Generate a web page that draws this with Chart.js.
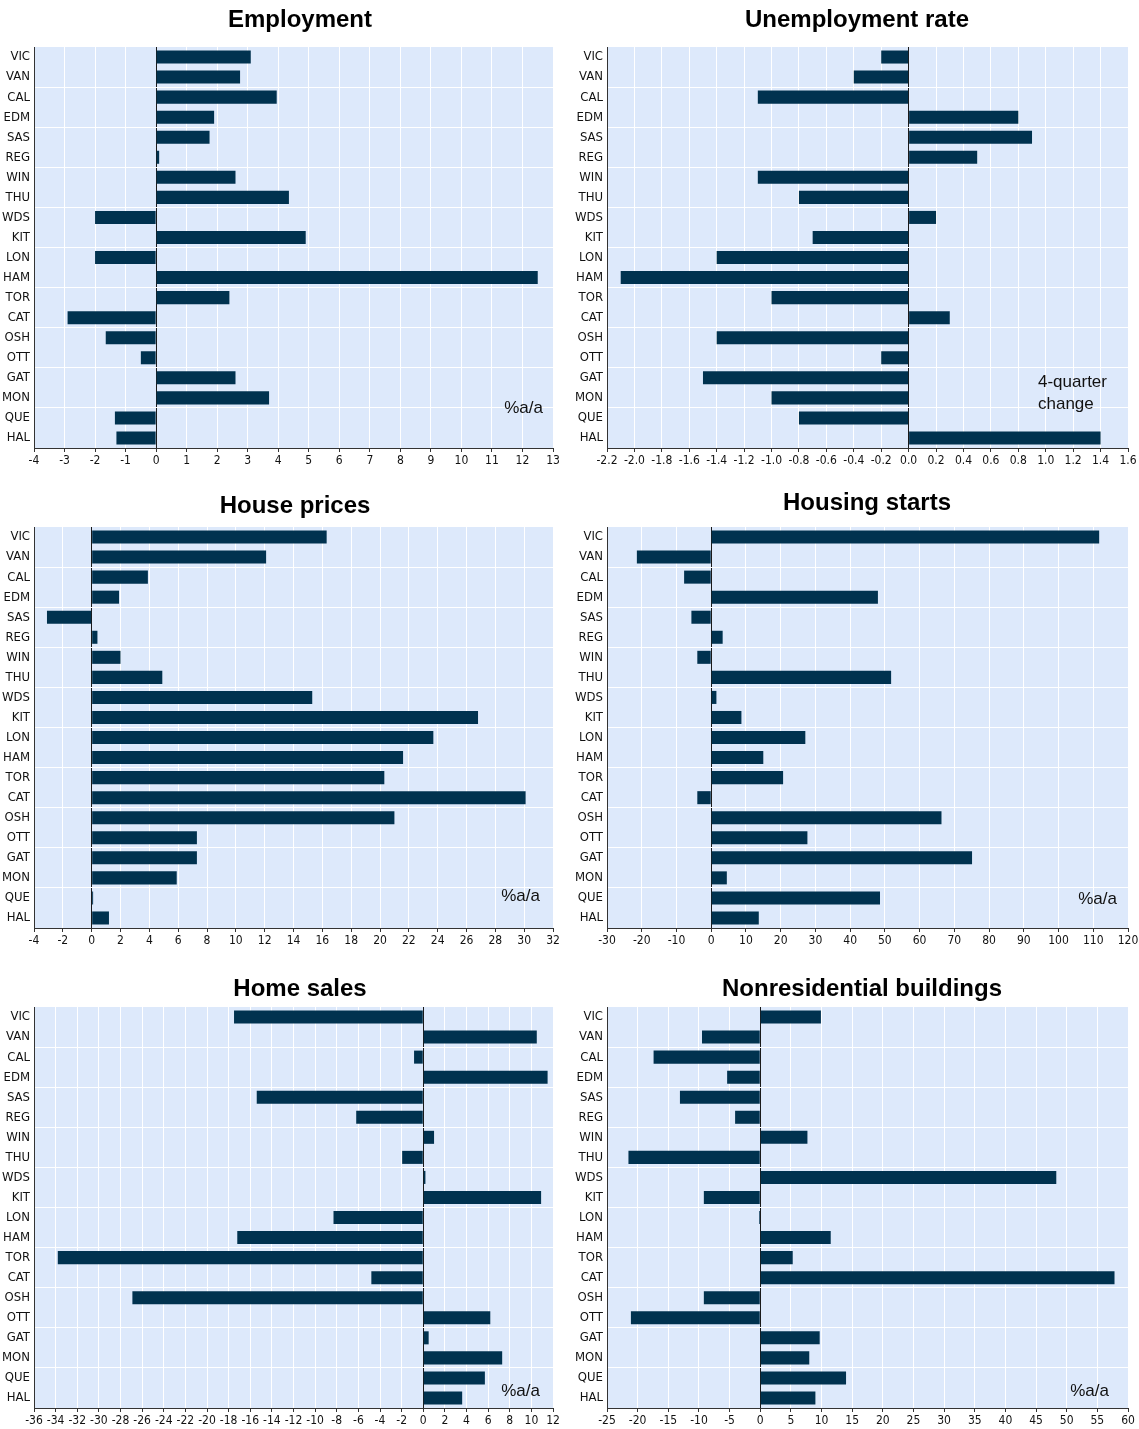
<!DOCTYPE html>
<html>
<head>
<meta charset="utf-8">
<title>Canadian cities: labour and housing indicators</title>
<script src="https://cdn.jsdelivr.net/npm/chart.js@4/dist/chart.umd.min.js"></script>
<style>
  html, body { margin: 0; padding: 0; background: #ffffff; }
  body { width: 1139px; height: 1429px; position: relative; overflow: hidden; }
  canvas { position: absolute; display: block; }
</style>
</head>
<body>
<canvas id="employment" width="560" height="480" style="left:0px;top:0px"></canvas>
<canvas id="unemployment" width="569" height="480" style="left:570px;top:0px"></canvas>
<canvas id="housePrices" width="560" height="480" style="left:0px;top:480px"></canvas>
<canvas id="housingStarts" width="569" height="480" style="left:570px;top:480px"></canvas>
<canvas id="homeSales" width="560" height="469" style="left:0px;top:960px"></canvas>
<canvas id="nonresidential" width="569" height="469" style="left:570px;top:960px"></canvas>
<script>
// Census metropolitan areas, west to east
const cities = ['VIC', 'VAN', 'CAL', 'EDM', 'SAS', 'REG', 'WIN', 'THU', 'WDS', 'KIT',
                'LON', 'HAM', 'TOR', 'CAT', 'OSH', 'OTT', 'GAT', 'MON', 'QUE', 'HAL'];

// Year-over-year changes by city
const employment       = [3.1, 2.75, 3.95, 1.9, 1.75, 0.1, 2.6, 4.35, -2.0, 4.9,
                          -2.0, 12.5, 2.4, -2.9, -1.65, -0.5, 2.6, 3.7, -1.35, -1.3];
const unemploymentRate = [-0.2, -0.4, -1.1, 0.8, 0.9, 0.5, -1.1, -0.8, 0.2, -0.7,
                          -1.4, -2.1, -1.0, 0.3, -1.4, -0.2, -1.5, -1.0, -0.8, 1.4];
const housePrices      = [16.3, 12.1, 3.9, 1.9, -3.1, 0.4, 2.0, 4.9, 15.3, 26.8,
                          23.7, 21.6, 20.3, 30.1, 21.0, 7.3, 7.3, 5.9, 0.1, 1.2];
const housingStarts    = [111.7, -21.4, -7.8, 48.0, -5.7, 3.3, -4.0, 51.8, 1.5, 8.7,
                          27.1, 15.0, 20.7, -4.0, 66.3, 27.7, 75.1, 4.5, 48.6, 13.7];
const homeSales        = [-17.5, 10.5, -0.85, 11.5, -15.4, -6.2, 1.0, -1.95, 0.2, 10.9,
                          -8.3, -17.2, -33.8, -4.8, -26.9, 6.2, 0.5, 7.3, 5.7, 3.6];
const nonresidential   = [9.9, -9.5, -17.4, -5.4, -13.1, -4.1, 7.7, -21.5, 48.3, -9.2,
                          -0.2, 11.5, 5.3, 57.8, -9.2, -21.1, 9.7, 8.0, 14.0, 9.0];

// Value-axis tick ranges: [min, max, step, decimals]
const employmentTicks    = [-4, 13, 1, 0];
const unemploymentTicks  = [-2.2, 1.6, 0.2, 1];
const housePriceTicks    = [-4, 32, 2, 0];
const housingStartTicks  = [-30, 120, 10, 0];
const homeSalesTicks     = [-36, 12, 2, 0];
const nonresidentialTicks = [-25, 60, 5, 0];

const BAR = '#00324f';
const PLOT_BG = '#dde9fb';
const AXIS = '#333333';
const TEXT = '#111111';
const NARROW = "'Liberation Sans Narrow', 'Arial Narrow', 'DejaVu Sans Condensed', sans-serif";
const SANS = "'Liberation Sans', Arial, Helvetica, sans-serif";

// Plot background, panel heading and the unit note in the corner
const panelDecor = {
  id: 'panelDecor',
  beforeDraw(chart, args, opts) {
    const { ctx, chartArea: a } = chart;
    ctx.save();
    ctx.fillStyle = PLOT_BG;
    ctx.fillRect(a.left, a.top, a.right - a.left, a.bottom - a.top);
    ctx.restore();
  },
  afterDraw(chart, args, opts) {
    const { ctx, chartArea: a } = chart;
    ctx.save();
    ctx.fillStyle = '#000000';
    ctx.font = 'bold 24px ' + SANS;
    ctx.textAlign = 'center';
    ctx.textBaseline = 'alphabetic';
    ctx.fillText(opts.title, opts.titleX, opts.titleY);

    const note = opts.note;
    ctx.font = '17px ' + SANS;
    ctx.fillStyle = '#111111';
    ctx.textAlign = note.align;
    ctx.textBaseline = 'middle';
    note.lines.forEach((line, i) => {
      ctx.fillText(line, a.right + note.dx, a.bottom + note.dy + i * 22);
    });
    ctx.restore();
  }
};

function drawPanel(canvasId, values, ticks, layout) {
  const [min, max, step, decimals] = ticks;
  return new Chart(document.getElementById(canvasId), {
    type: 'bar',
    data: {
      labels: cities,
      datasets: [{
        data: values,
        backgroundColor: BAR,
        borderWidth: 0,
        barPercentage: 0.65,
        categoryPercentage: 1.0
      }]
    },
    options: {
      indexAxis: 'y',
      responsive: false,
      animation: false,
      events: [],
      layout: { padding: { top: 47, right: layout.padRight, left: 0, bottom: 0 } },
      plugins: {
        legend: { display: false },
        tooltip: { enabled: false },
        title: { display: false },
        panelDecor: {
          title: layout.title,
          titleX: layout.titleX,
          titleY: layout.titleY,
          note: layout.note
        }
      },
      scales: {
        x: {
          type: 'linear',
          min: min,
          max: max,
          afterFit(scale) {
            scale.height = layout.xHeight;
            scale.paddingLeft = 0;
            scale.paddingRight = 0;
          },
          ticks: {
            stepSize: step,
            autoSkip: false,
            maxRotation: 0,
            minRotation: 0,
            padding: 2,
            color: TEXT,
            font: { family: NARROW, size: 12 },
            callback: (v) => Number(v).toFixed(decimals)
          },
          grid: {
            color: (c) => (c.tick && Math.abs(c.tick.value) < 1e-9) ? '#1a1a1a' : '#ffffff',
            lineWidth: 1,
            drawTicks: true,
            tickLength: 4,
            tickColor: AXIS
          },
          border: { display: true, color: AXIS, width: 1 }
        },
        y: {
          type: 'category',
          afterFit(scale) {
            scale.width = layout.yWidth;
            scale.paddingTop = 0;
            scale.paddingBottom = 0;
          },
          ticks: {
            autoSkip: false,
            padding: 4,
            color: TEXT,
            font: { family: NARROW, size: 13 }
          },
          grid: {
            offset: true,
            drawTicks: false,
            lineWidth: 1,
            color: (c) => (c.index > 0 && c.index < cities.length && c.index % 2 === 0)
              ? '#ffffff' : 'rgba(0,0,0,0)'
          },
          border: { display: true, color: AXIS, width: 1 }
        }
      }
    },
    plugins: [panelDecor]
  });
}

drawPanel('employment', employment, employmentTicks, {
  title: 'Employment', titleX: 300, titleY: 27,
  yWidth: 34, padRight: 7, xHeight: 32,
  note: { lines: ['%a/a'], align: 'right', dx: -10, dy: -40 }
});
drawPanel('unemployment', unemploymentRate, unemploymentTicks, {
  title: 'Unemployment rate', titleX: 287, titleY: 27,
  yWidth: 37, padRight: 11, xHeight: 32,
  note: { lines: ['4-quarter', 'change'], align: 'left', dx: -90, dy: -66 }
});
drawPanel('housePrices', housePrices, housePriceTicks, {
  title: 'House prices', titleX: 295, titleY: 33,
  yWidth: 34, padRight: 7, xHeight: 32,
  note: { lines: ['%a/a'], align: 'right', dx: -13, dy: -32 }
});
drawPanel('housingStarts', housingStarts, housingStartTicks, {
  title: 'Housing starts', titleX: 297, titleY: 30,
  yWidth: 37, padRight: 11, xHeight: 32,
  note: { lines: ['%a/a'], align: 'right', dx: -11, dy: -29 }
});
drawPanel('homeSales', homeSales, homeSalesTicks, {
  title: 'Home sales', titleX: 300, titleY: 36,
  yWidth: 34, padRight: 7, xHeight: 21,
  note: { lines: ['%a/a'], align: 'right', dx: -13, dy: -17 }
});
drawPanel('nonresidential', nonresidential, nonresidentialTicks, {
  title: 'Nonresidential buildings', titleX: 292, titleY: 36,
  yWidth: 37, padRight: 11, xHeight: 21,
  note: { lines: ['%a/a'], align: 'right', dx: -19, dy: -17 }
});
</script>
</body>
</html>
